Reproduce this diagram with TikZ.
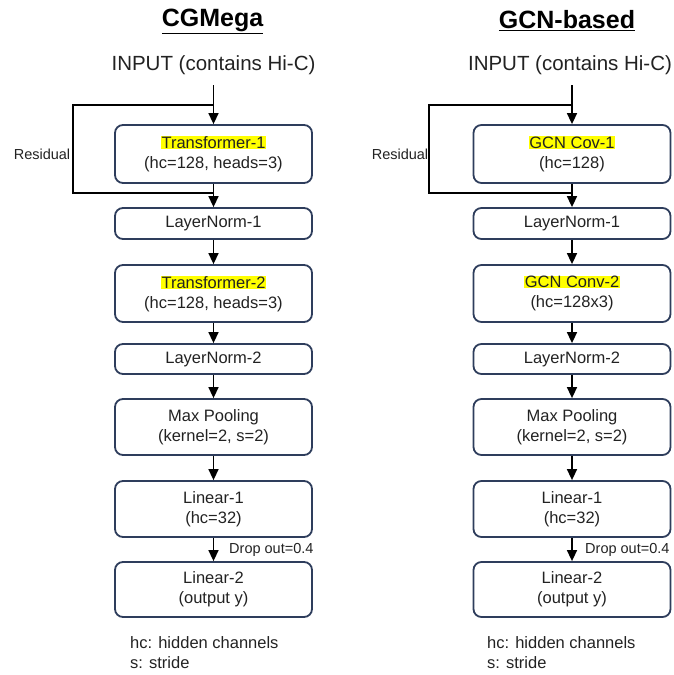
\documentclass[tikz,border=0pt]{standalone}
\usepackage{fontspec}
\setmainfont{Liberation Sans}
\usetikzlibrary{arrows.meta}
\definecolor{boxline}{HTML}{2E3D5C}
\definecolor{txt}{HTML}{222222}
\definecolor{hl}{HTML}{FFFF00}
\newcommand{\hlt}[1]{{\setlength{\fboxsep}{0.5pt}\colorbox{hl}{#1}}}
\begin{document}
\begin{tikzpicture}[x=1pt,y=-1pt,
  blk/.style={draw=boxline, line width=1.8pt, rounded corners=8pt, minimum width=197pt,
     align=center, text=txt, inner sep=0pt, font=\fontsize{16.5}{20}\selectfont},
  arr/.style={-{Triangle[length=11pt,width=10pt]}, line width=1.5pt, black},
  ln/.style={line width=1.5pt, black},
  title/.style={font=\fontsize{25}{28}\selectfont\bfseries, text=black, inner sep=0pt},
  inp/.style={font=\fontsize{20.5}{24}\selectfont, text=txt, inner sep=0pt},
  small/.style={font=\fontsize{14.5}{17}\selectfont, text=txt, inner sep=0pt},
  legend/.style={font=\fontsize{16.5}{20}\selectfont, text=txt, inner sep=0pt, anchor=west}
]
\useasboundingbox (0,0) rectangle (673,675);

% ---------- Left column ----------
\node[title] (tL) at (212.5,21) {\underline{CGMega}};
\node[inp] (inL) at (213.5,65) {INPUT (contains Hi-C)};
\node[blk, minimum height=58pt] (t1) at (213.5,154) {\hlt{Transformer-1}\\(hc=128, heads=3)};
\node[blk, minimum height=31pt] (ln1) at (213.5,223.5) {LayerNorm-1};
\node[blk, minimum height=57pt] (t2) at (213.5,293.5) {\hlt{Transformer-2}\\(hc=128, heads=3)};
\node[blk, minimum height=30pt] (ln2) at (213.5,359) {LayerNorm-2};
\node[blk, minimum height=56pt] (mp) at (213.5,427) {Max Pooling\\(kernel=2, s=2)};
\node[blk, minimum height=56pt] (l1) at (213.5,509) {Linear-1\\(hc=32)};
\node[blk, minimum height=55pt] (l2) at (213.5,589.5) {Linear-2\\(output y)};
\node[small] (resL) at (42,154) {Residual};
\node[small, anchor=west] (dL) at (229,550) {Drop out=0.4};
\node[legend] (hcL) at (130,643) {hc: hidden channels};
\node[legend] (sL) at (130,663) {s: stride};

\coordinate (aL) at (213.5,85);
\coordinate (rL1) at (213.5,105);
\coordinate (rL2) at (73,105);
\coordinate (rL3) at (73,193);
\coordinate (rL4) at (213.5,193);
\draw[arr] (aL) -- (t1.north);
\draw[ln] (rL1) -- (rL2) -- (rL3) -- (rL4);
\draw[arr] (t1.south) -- (ln1.north);
\draw[arr] (ln1) -- (t2);
\draw[arr] (t2) -- (ln2);
\draw[arr] (ln2) -- (mp);
\draw[arr] (mp) -- (l1);
\draw[arr] (l1) -- (l2);

% ---------- Right column ----------
\node[title] (tR) at (567,21) {\underline{GCN-based}};
\node[inp] (inR) at (570,65) {INPUT (contains Hi-C)};
\node[blk, minimum height=58pt] (g1) at (572,154) {\hlt{GCN Cov-1}\\(hc=128)};
\node[blk, minimum height=31pt] (rn1) at (572,223.5) {LayerNorm-1};
\node[blk, minimum height=57pt] (g2) at (572,293.5) {\hlt{GCN Conv-2}\\(hc=128x3)};
\node[blk, minimum height=30pt] (rn2) at (572,359) {LayerNorm-2};
\node[blk, minimum height=56pt] (rmp) at (572,427) {Max Pooling\\(kernel=2, s=2)};
\node[blk, minimum height=56pt] (rl1) at (572,509) {Linear-1\\(hc=32)};
\node[blk, minimum height=55pt] (rl2) at (572,589.5) {Linear-2\\(output y)};
\node[small] (resR) at (400,154) {Residual};
\node[small, anchor=west] (dR) at (585,550) {Drop out=0.4};
\node[legend] (hcR) at (487,643) {hc: hidden channels};
\node[legend] (sR) at (487,663) {s: stride};

\coordinate (aR) at (572,85);
\coordinate (rR1) at (572,105);
\coordinate (rR2) at (429,105);
\coordinate (rR3) at (429,193);
\coordinate (rR4) at (572,193);
\draw[arr] (aR) -- (g1.north);
\draw[ln] (rR1) -- (rR2) -- (rR3) -- (rR4);
\draw[arr] (g1.south) -- (rn1.north);
\draw[arr] (rn1) -- (g2);
\draw[arr] (g2) -- (rn2);
\draw[arr] (rn2) -- (rmp);
\draw[arr] (rmp) -- (rl1);
\draw[arr] (rl1) -- (rl2);
\end{tikzpicture}
\end{document}
